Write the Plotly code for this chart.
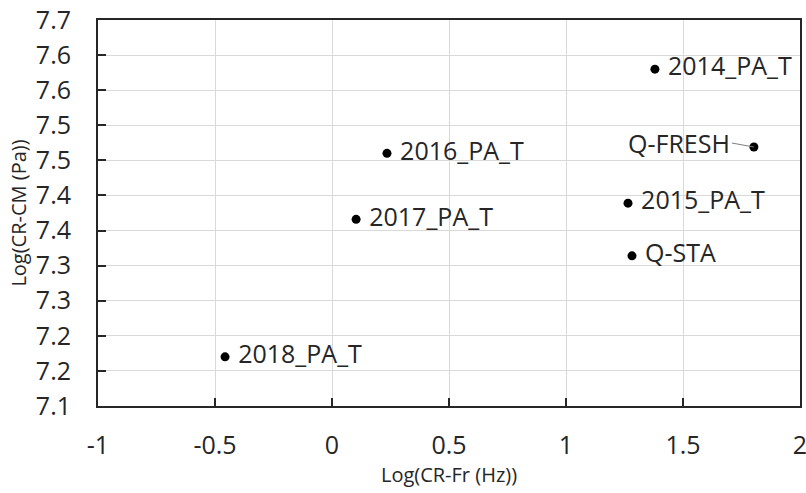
import plotly.graph_objects as go

# Data
names = ["2014_PA_T", "2015_PA_T", "2016_PA_T", "2017_PA_T", "2018_PA_T", "Q-STA"]
x_vals = [1.380, 1.265, 0.235, 0.103, -0.457, 1.282]
y_vals = [7.580, 7.389, 7.460, 7.366, 7.170, 7.314]

fresh_name = "Q-FRESH"
fresh_x = [1.803]
fresh_y = [7.469]

x_ticks = [-1, -0.5, 0, 0.5, 1, 1.5, 2]
x_ticktext = ["-1", "-0.5", "0", "0.5", "1", "1.5", "2"]
y_ticks = [7.10, 7.15, 7.20, 7.25, 7.30, 7.35, 7.40, 7.45, 7.50, 7.55, 7.60, 7.65]
y_ticktext = ["7.1", "7.2", "7.2", "7.3", "7.3", "7.4", "7.4", "7.5", "7.5", "7.6", "7.6", "7.7"]

FONT = "Open Sans, Liberation Sans, sans-serif"
TXT = "#262626"

fig = go.Figure()
fig.add_trace(go.Scatter(
    x=x_vals, y=y_vals, mode="markers+text", text=[" " + n for n in names],
    textposition="middle right",
    textfont=dict(family=FONT, size=25, color=TXT),
    marker=dict(color="black", size=9),
    showlegend=False, cliponaxis=False, hoverinfo="skip",
))
fig.add_trace(go.Scatter(
    x=fresh_x, y=fresh_y, mode="markers",
    marker=dict(color="black", size=9),
    showlegend=False, cliponaxis=False, hoverinfo="skip",
))
fig.add_annotation(
    x=fresh_x[0], y=fresh_y[0], text=fresh_name,
    showarrow=True, arrowhead=0, arrowwidth=1, arrowcolor="#808080",
    ax=-22, ay=-4, xanchor="right", yanchor="middle",
    font=dict(family=FONT, size=25, color=TXT),
)

axis_common = dict(
    showline=True, linecolor=TXT, linewidth=2, mirror=True,
    ticks="inside", ticklen=8, tickwidth=2, tickcolor=TXT,
    showgrid=True, gridcolor="#d9d9d9", gridwidth=1,
    zeroline=False, automargin=False,
    tickfont=dict(family=FONT, size=25, color=TXT),
    title_font=dict(family=FONT, size=20, color=TXT),
)

fig.update_xaxes(
    range=[-1, 2], tickvals=x_ticks, ticktext=x_ticktext,
    ticklabelstandoff=16, ticklabeloverflow="allow",
    title_text="Log(CR-Fr (Hz))", title_standoff=8, **axis_common,
)
fig.update_yaxes(
    range=[7.1, 7.65], tickvals=y_ticks, ticktext=y_ticktext,
    ticklabelstandoff=20,
    title_text="Log(CR-CM (Pa))", title_standoff=4, **axis_common,
)

fig.update_layout(
    width=806, height=493,
    margin=dict(l=98, r=6, t=20, b=87),
    plot_bgcolor="white", paper_bgcolor="white",
)

fig.write_html(
    "out.html",
    config={"displayModeBar": False},
    post_script="document.body.style.margin='0';document.body.style.overflow='hidden';",
)
